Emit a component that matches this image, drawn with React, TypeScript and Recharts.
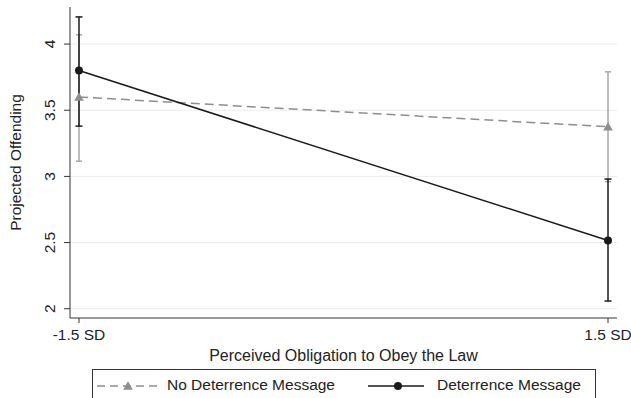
import React from 'react';
import { LineChart, Line, XAxis, YAxis, ReferenceLine, ErrorBar, Legend } from 'recharts';

const xPositions = [-1.5, 1.5];
const xTickLabels = ['-1.5 SD', '1.5 SD'];
const yTicks = [2, 2.5, 3, 3.5, 4];

const noDeterrence = [3.6, 3.375];
const noDeterrenceLow = [3.115, 2.96];
const noDeterrenceHigh = [4.07, 3.79];

const deterrence = [3.8, 2.516];
const deterrenceLow = [3.38, 2.058];
const deterrenceHigh = [4.205, 2.98];

const data = xPositions.map((x, i) => ({
  x,
  noDet: noDeterrence[i],
  noDetErr: [noDeterrence[i] - noDeterrenceLow[i], noDeterrenceHigh[i] - noDeterrence[i]],
  det: deterrence[i],
  detErr: [deterrence[i] - deterrenceLow[i], deterrenceHigh[i] - deterrence[i]],
}));

const GRAY = '#8e8e8e';
const GRAY_ERR = '#a8a8a8';
const BLACK = '#1a1a1a';
const TEXT = '#222222';
const FONT = '"Liberation Sans", Arial, Helvetica, sans-serif';

const Triangle = (props: any) => {
  const { cx, cy } = props;
  if (cx == null || cy == null) return null;
  const s = 4.8;
  return (
    <polygon
      points={`${cx},${cy - s} ${cx - s},${cy + s * 0.8} ${cx + s},${cy + s * 0.8}`}
      fill={GRAY}
      stroke="none"
    />
  );
};

const Dot = (props: any) => {
  const { cx, cy } = props;
  if (cx == null || cy == null) return null;
  return <circle cx={cx} cy={cy} r={4} fill={BLACK} stroke="none" />;
};

const YTick = (props: any) => {
  const { x, y, payload } = props;
  return (
    <text
      x={x}
      y={y}
      transform={`rotate(-90 ${x} ${y})`}
      textAnchor="middle"
      dominantBaseline="central"
      fill={TEXT}
      fontSize={15.5}
      fontFamily={FONT}
    >
      {payload.value}
    </text>
  );
};

const YTitle = (props: any) => {
  const vb = props.viewBox || { x: 0, y: 7, width: 70, height: 311 };
  const cx = vb.x + 15;
  const cy = vb.y + vb.height / 2;
  return (
    <text
      x={cx}
      y={cy}
      transform={`rotate(-90 ${cx} ${cy})`}
      textAnchor="middle"
      dominantBaseline="central"
      fill={TEXT}
      fontSize={15.5}
      fontFamily={FONT}
    >
      Projected Offending
    </text>
  );
};

const LegendBox = () => (
  <div
    style={{
      position: 'relative',
      width: 504,
      height: 29,
      boxSizing: 'border-box',
      borderTop: '1px solid #333',
      borderLeft: '1px solid #333',
      borderRight: '1px solid #333',
      fontFamily: FONT,
      fontSize: 15.5,
      color: TEXT,
    }}
  >
    <svg style={{ position: 'absolute', left: 4, top: 8 }} width={62} height={16}>
      <line x1={0} y1={8} x2={62} y2={8} stroke={GRAY} strokeWidth={1.5} strokeDasharray="8 5" />
      <polygon points="31,3.2 26.2,11.8 35.8,11.8" fill={GRAY} />
    </svg>
    <span style={{ position: 'absolute', left: 74, top: 6, whiteSpace: 'nowrap' }}>No Deterrence Message</span>
    <svg style={{ position: 'absolute', left: 275, top: 8 }} width={56} height={16}>
      <line x1={0} y1={8} x2={56} y2={8} stroke={BLACK} strokeWidth={1.5} />
      <circle cx={30} cy={8} r={4} fill={BLACK} />
    </svg>
    <span style={{ position: 'absolute', left: 344, top: 6, whiteSpace: 'nowrap' }}>Deterrence Message</span>
  </div>
);

export default function App() {
  return (
    <div style={{ position: 'absolute', left: 0, top: 0, width: 631, height: 398, background: '#fff', overflow: 'hidden' }}>
      <LineChart width={631} height={398} data={data} margin={{ top: 7, right: 14, bottom: 0, left: 0 }}>
        <XAxis
          dataKey="x"
          type="number"
          domain={[-1.551, 1.551]}
          ticks={xPositions}
          tickFormatter={(v: number) => xTickLabels[xPositions.indexOf(v)] ?? String(v)}
          height={51}
          tickSize={5}
          tickMargin={6}
          stroke="#333"
          tick={{ fill: TEXT, fontSize: 15.5, fontFamily: FONT }}
          allowDataOverflow
          label={{
            value: 'Perceived Obligation to Obey the Law',
            position: 'insideBottom',
            offset: 8,
            fill: TEXT,
            fontSize: 16,
            fontFamily: FONT,
          }}
        />
        <YAxis
          type="number"
          domain={[1.93, 4.28]}
          ticks={yTicks}
          width={70}
          tickSize={6}
          tickMargin={14}
          stroke="#333"
          tick={<YTick />}
          allowDataOverflow
          label={<YTitle />}
        />
        {yTicks.map((v) => (
          <ReferenceLine key={v} y={v} stroke="#ececec" strokeWidth={1} />
        ))}
        <Legend
          verticalAlign="bottom"
          align="left"
          content={<LegendBox />}
          wrapperStyle={{ left: 92, width: 504, height: 29 }}
        />
        <Line
          dataKey="noDet"
          stroke={GRAY}
          strokeWidth={1.5}
          strokeDasharray="9 5"
          dot={<Triangle />}
          activeDot={false}
          isAnimationActive={false}
        >
          <ErrorBar dataKey="noDetErr" direction="y" stroke={GRAY_ERR} strokeWidth={1.5} width={3} isAnimationActive={false} />
        </Line>
        <Line
          dataKey="det"
          stroke={BLACK}
          strokeWidth={1.5}
          dot={<Dot />}
          activeDot={false}
          isAnimationActive={false}
        >
          <ErrorBar dataKey="detErr" direction="y" stroke={BLACK} strokeWidth={1.5} width={3.5} isAnimationActive={false} />
        </Line>
      </LineChart>
    </div>
  );
}
